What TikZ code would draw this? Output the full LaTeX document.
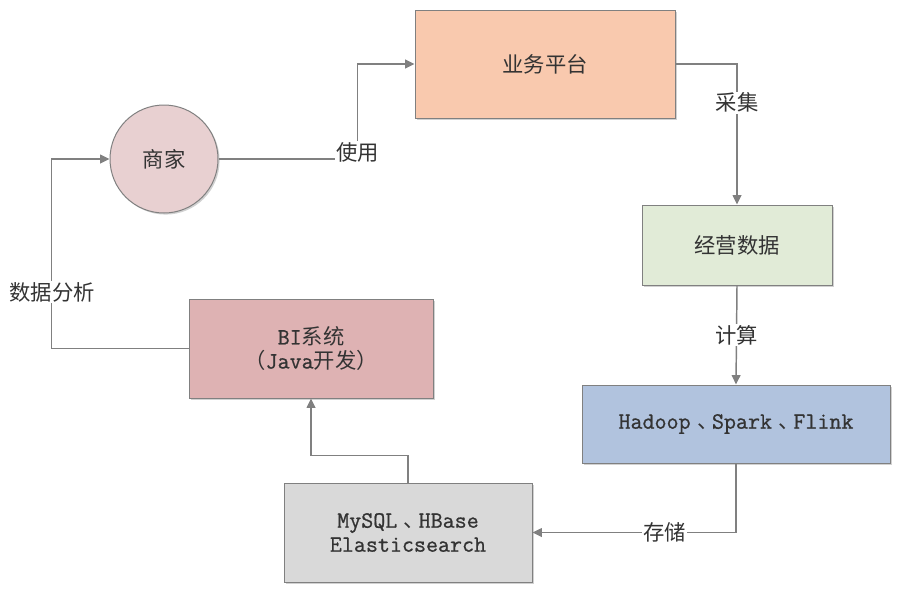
\documentclass[tikz,border=0pt]{standalone}
\usepackage{fontspec}
\setmainfont{Noto Sans CJK SC}
\newfontfamily\mono{Latin Modern Mono}[FakeBold=0.8]
\usetikzlibrary{arrows.meta,shadows}
\definecolor{lncol}{HTML}{808080}
\definecolor{txtcol}{HTML}{333333}
\definecolor{cyw}{HTML}{F9C9AE}
\definecolor{cjy}{HTML}{E1EBD7}
\definecolor{chd}{HTML}{B1C3DE}
\definecolor{cmy}{HTML}{D9D9D9}
\definecolor{cbi}{HTML}{DEB2B3}
\definecolor{csj}{HTML}{E8D0D1}
\newcommand\lt[1]{{\fontsize{17.5}{21}\mono #1}}
\newcommand\dun{\kern0.3em、\kern-0.3em}
\begin{document}
\begin{tikzpicture}[x=0.75pt,y=-0.75pt,
  every node/.style={text=txtcol, font=\fontsize{16}{19}\selectfont},
  box/.style={draw=lncol, line width=0.75pt, inner sep=0pt, align=center,
    drop shadow={shadow xshift=1.2pt, shadow yshift=-1.2pt, opacity=0.18, fill=black}},
  conn/.style={draw=lncol, line width=1.1pt, -{Triangle[length=7pt,width=6.5pt]}},
  lbl/.style={fill=white, inner sep=1pt}]
\useasboundingbox (0,0) rectangle (916,596);

\node[box, fill=csj, circle, minimum size=81pt] (sj) at (164,159) {商家};
\node[box, fill=cyw, minimum width=195pt, minimum height=81pt] (yw) at (545,64) {业务平台};
\node[box, fill=cjy, minimum width=142.5pt, minimum height=60pt] (jy) at (737,245) {经营数据};
\node[box, fill=chd, minimum width=231pt, minimum height=58.5pt] (hd) at (736,424) {\lt{Hadoop}\dun\lt{Spark}\dun\lt{Flink}};
\node[box, fill=cmy, minimum width=186pt, minimum height=74.25pt] (my) at (408,532.5) {\lt{MySQL}\dun\lt{HBase}\\[-1pt]\lt{Elasticsearch}};
\node[box, fill=cbi, minimum width=183pt, minimum height=74.25pt] (bi) at (311,348.5) {\lt{BI}系统\\[-1pt]（\lt{Java}开发）};

\draw[conn] (sj.east) -- ++(139,0) coordinate (c1) |- (yw.west);
\node[lbl] (l1) at ([yshift=5pt]c1) {使用};

\draw[conn] (yw.east) -| (jy.north);
\node[lbl] (l2) at ([yshift=-29pt]yw.east -| jy.north) {采集};

\draw[conn] (jy.south) -- (hd.north) node[lbl, midway] (l3) {计算};

\draw[conn] (hd.south) |- (my.east) coordinate[pos=0.675] (c4);
\node[lbl] (l4) at (c4) {存储};

\draw[conn] (my.north) -- ++(0,-27) -| (bi.south);

\draw[conn] (bi.west) -- ++(-137,0) |- (sj.west);
\node[lbl] (l5) at (52,292) {数据分析};
\end{tikzpicture}
\end{document}
